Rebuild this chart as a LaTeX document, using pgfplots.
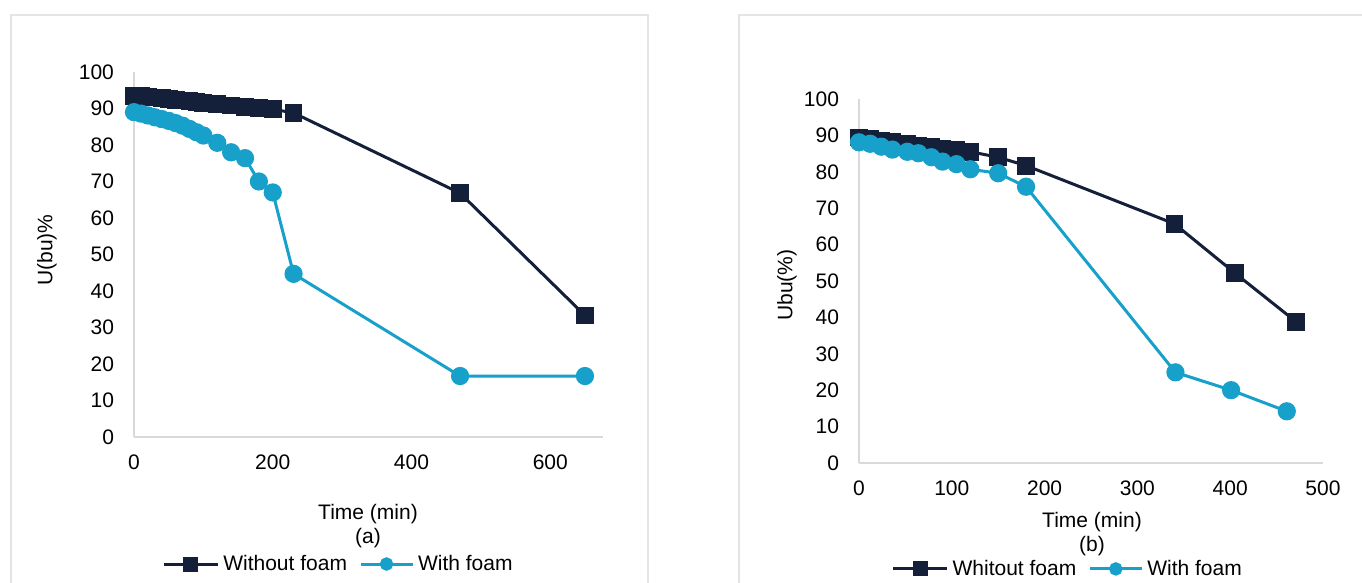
\documentclass[border=0pt]{standalone}
\usepackage{pgfplots}
\pgfplotsset{compat=1.18}
\usepackage{fontspec}
\setmainfont{Liberation Sans}
\definecolor{navy}{RGB}{20,31,58}
\definecolor{sky}{RGB}{22,160,202}
\definecolor{axgray}{RGB}{217,217,217}
\definecolor{bordergray}{RGB}{228,228,228}
\newcommand{\cf}{\fontsize{10.5}{12}\selectfont}
\pgfplotsset{
  myax/.style={
    scale only axis, axis lines*=left,
    axis line style={axgray, line width=0.8pt, -},
    major tick length=0pt, tick style={draw=none},
    ymin=0, ymax=100, ytick={0,10,...,100},
    tick label style={font=\cf},
    /pgf/number format/assume math mode=true,
    yticklabel style={xshift=-6.5pt},
    xticklabel style={yshift=-5.5pt},
    clip=false,
    legend style={draw=none, fill=none, font=\cf, anchor=center,
      legend columns=2, inner sep=0pt,
      /tikz/every even column/.append style={column sep=4pt}},
  },
  nav/.style={navy, line width=1.5pt, mark=square*, mark size=3.7pt, mark options={solid},
    legend image code/.code={\draw[navy, line width=1.5pt] (0pt,0pt) -- (27pt,0pt);
      \fill[navy] (10.5pt,-3pt) rectangle (16.5pt,3pt);}},
  sk/.style={sky, line width=1.5pt, mark=*, mark size=3.8pt, mark options={solid},
    legend image code/.code={\draw[sky, line width=1.5pt] (0pt,0pt) -- (26pt,0pt);
      \fill[sky] (13pt,0pt) circle (2.6pt);}},
}
\begin{document}
\begin{tikzpicture}
\useasboundingbox (0,0) rectangle (681pt,291.5pt);
\draw[bordergray, line width=0.8pt] (5.5pt,-5pt) -- (5.5pt,284pt) -- (324pt,284pt) -- (324pt,-5pt);
\draw[bordergray, line width=0.8pt] (369.5pt,-5pt) -- (369.5pt,284pt) -- (690pt,284pt);

% Panel (a)
\begin{axis}[myax, at={(67pt,73pt)}, anchor=south west,
  width=234.5pt, height=182.5pt,
  xmin=0, xmax=676, xtick={0,200,400,600},
  legend style={at={(0.438,-0.348)}}]
\addplot[nav] coordinates {
 (0,93.5) (10,93.4) (20,93.2) (30,93.0) (40,92.8) (50,92.6) (60,92.4) (70,92.2)
 (80,92.0) (90,91.8) (100,91.6) (120,91.2) (140,90.8) (160,90.5) (180,90.2)
 (200,89.8) (230,88.8) (470,66.8) (650,33.3)};
\addlegendentry{Without foam}
\addplot[sk] coordinates {
 (0,89.0) (10,88.6) (20,88.1) (30,87.6) (40,87.1) (50,86.6) (60,86.0) (70,85.3)
 (80,84.4) (90,83.5) (100,82.6) (120,80.6) (140,78.0) (160,76.4) (180,70.0)
 (200,67.0) (230,44.7) (470,16.7) (650,16.7)};
\addlegendentry{With foam}
\end{axis}

% Panel (b)
\begin{axis}[myax, at={(429.5pt,60pt)}, anchor=south west,
  width=232pt, height=182pt,
  xmin=0, xmax=500, xtick={0,100,...,500},
  legend style={at={(0.452,-0.291)}}]
\addplot[nav] coordinates {
 (0,89.4) (12,89.0) (24,88.6) (36,88.2) (52,87.6) (64,87.2) (78,86.8) (90,86.4)
 (105,86.0) (120,85.5) (150,84.0) (180,81.7) (340,65.7) (405,52.2) (471,38.8)};
\addlegendentry{Whitout foam}
\addplot[sk] coordinates {
 (0,88.1) (12,87.7) (24,86.9) (36,86.1) (52,85.5) (64,85.1) (78,84.0) (90,82.8)
 (105,82.1) (120,80.7) (150,79.6) (180,75.9) (341,24.9) (401,20.0) (461,14.2)};
\addlegendentry{With foam}
\end{axis}

\node[font=\cf, rotate=90] at (23.5pt,166.5pt) {U(bu)\%};
\node[font=\cf] at (184pt,34.5pt) {Time (min)};
\node[font=\cf] at (184pt,22.5pt) {(a)};
\node[font=\cf, rotate=90] at (393.5pt,149pt) {Ubu(\%)};
\node[font=\cf] at (546pt,30.5pt) {Time (min)};
\node[font=\cf] at (546pt,18.5pt) {(b)};
\end{tikzpicture}
\end{document}
